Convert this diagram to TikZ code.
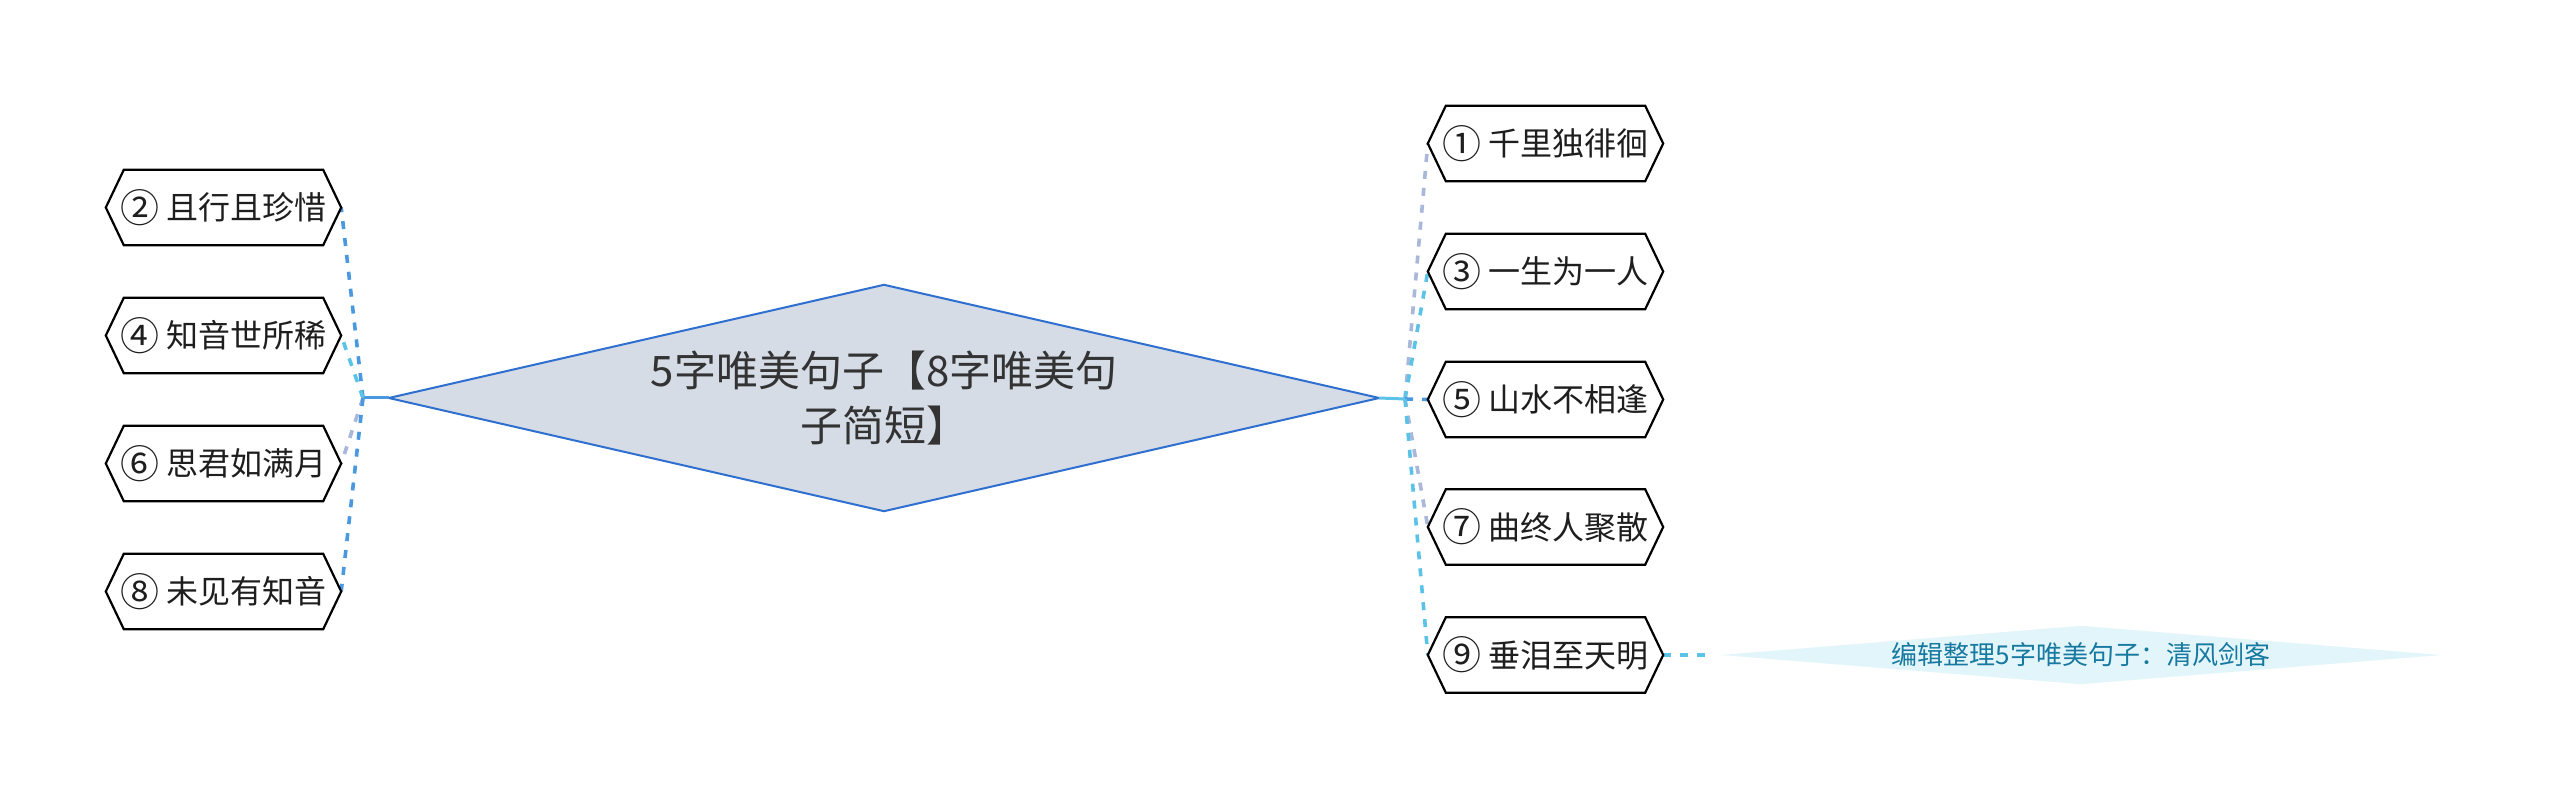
\documentclass[tikz,border=0pt]{standalone}
\usepackage{fontspec}
\setmainfont{Noto Sans CJK SC}
\definecolor{txt}{HTML}{1E1E1E}
\definecolor{maintxt}{HTML}{333333}
\definecolor{rootfill}{HTML}{D5DCE6}
\definecolor{rootline}{HTML}{2E6FD0}
\definecolor{cblue}{HTML}{4A98E0}
\definecolor{ccyan}{HTML}{5CC3E8}
\definecolor{clav}{HTML}{A9B7DA}
\definecolor{notefill}{HTML}{E2F5FB}
\definecolor{notetxt}{HTML}{17799F}
\newcommand\hexdraw[1]{\draw[hexline] (#1.west) -- ([xshift=18pt]#1.north west) -- ([xshift=-18pt]#1.north east) -- (#1.east) -- ([xshift=-18pt]#1.south east) -- ([xshift=18pt]#1.south west) -- cycle;}
\newcommand\cnum[1]{\raisebox{-2.5pt}{\fontsize{39}{36}\selectfont #1}}
\begin{document}
\begin{tikzpicture}[x=1pt,y=-1pt,
  hexbox/.style={minimum width=235pt,minimum height=75pt,inner sep=0pt,font=\fontsize{32}{36}\selectfont,text=txt},
  hexline/.style={line width=2.2pt,draw=black,fill=white,line join=miter},
  dashlink/.style={line width=3.6pt,dash pattern=on 8pt off 9pt},
  solidlink/.style={line width=3pt}]
\useasboundingbox[fill=white] (0,0) rectangle (2560,799);

% root diamond
\node[minimum width=990pt,minimum height=226pt,inner sep=0pt] (root) at (884,398) {};
\draw[fill=rootfill,draw=rootline,line width=2pt] (root.west) -- (root.north) -- (root.east) -- (root.south) -- cycle;
\node[align=center,font=\fontsize{42}{55}\selectfont,text=maintxt] (roottext) at (884,398) {5字唯美句子【8字唯美句\\子简短】};

% junctions
\coordinate (jl) at (363,398);
\coordinate (jr) at (1405,399);

% left nodes
\node[hexbox] (n2) at (223.5,207.5) {};
\node[hexbox] (n4) at (223.5,335.5) {};
\node[hexbox] (n6) at (223.5,463.5) {};
\node[hexbox] (n8) at (223.5,591.5) {};
% right nodes
\node[hexbox] (n1) at (1545.5,143.5) {};
\node[hexbox] (n3) at (1545.5,271.5) {};
\node[hexbox] (n5) at (1545.5,399.5) {};
\node[hexbox] (n7) at (1545.5,527) {};
\node[hexbox] (n9) at (1545.5,655) {};

% note
\node[minimum width=720pt,minimum height=58pt,inner sep=0pt] (note) at (2081,655) {};
\fill[notefill] (note.west) -- (note.north) -- (note.east) -- (note.south) -- cycle;
\node[font=\fontsize{26}{30}\selectfont,text=notetxt] (notetext) at (2081,655) {编辑整理5字唯美句子：清风剑客};

% connectors
\draw[solidlink,cblue] (root.west) -- (jl);
\draw[dashlink,cblue] (jl) -- (n2.east);
\draw[dashlink,ccyan] (jl) -- (n4.east);
\draw[dashlink,clav] (jl) -- (n6.east);
\draw[dashlink,cblue] (jl) -- (n8.east);

\draw[solidlink,ccyan] (root.east) -- (jr);
\draw[dashlink,clav] (jr) -- (n1.west);
\draw[dashlink,ccyan] (jr) -- (n3.west);
\draw[dashlink,cblue] (jr) -- (n5.west);
\draw[dashlink,clav] (jr) -- (n7.west);
\draw[dashlink,ccyan] (jr) -- (n9.west);
\draw[dashlink,ccyan,shorten >=10pt] (n9.east) -- (note.west);

% hexagons and their texts
\foreach \n in {n1,n2,n3,n4,n5,n6,n7,n8,n9}{\hexdraw{\n}}
\node[hexbox] (t2) at (n2) {\cnum{②} 且行且珍惜};
\node[hexbox] (t4) at (n4) {\cnum{④} 知音世所稀};
\node[hexbox] (t6) at (n6) {\cnum{⑥} 思君如满月};
\node[hexbox] (t8) at (n8) {\cnum{⑧} 未见有知音};
\node[hexbox] (t1) at (n1) {\cnum{①} 千里独徘徊};
\node[hexbox] (t3) at (n3) {\cnum{③} 一生为一人};
\node[hexbox] (t5) at (n5) {\cnum{⑤} 山水不相逢};
\node[hexbox] (t7) at (n7) {\cnum{⑦} 曲终人聚散};
\node[hexbox] (t9) at (n9) {\cnum{⑨} 垂泪至天明};
\end{tikzpicture}
\end{document}
